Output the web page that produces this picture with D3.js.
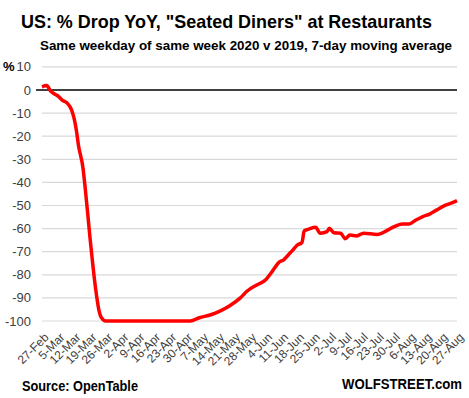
<!DOCTYPE html>
<html><head><meta charset="utf-8">
<script src="https://cdn.jsdelivr.net/npm/d3@7"></script>
<style>body{margin:0;background:#fff}svg{display:block}</style>
</head><body><svg id="c" width="469" height="398"></svg>
<script>
const dates = ["2020-02-27","2020-02-29","2020-03-02","2020-03-04","2020-03-05","2020-03-07","2020-03-09","2020-03-11","2020-03-12","2020-03-13","2020-03-14","2020-03-16","2020-03-17","2020-03-18","2020-03-19","2020-03-20","2020-03-21","2020-03-22","2020-03-23","2020-03-24","2020-03-26","2020-05-02","2020-05-06","2020-05-11","2020-05-15","2020-05-19","2020-05-24","2020-05-27","2020-05-31","2020-06-04","2020-06-07","2020-06-10","2020-06-12","2020-06-14","2020-06-16","2020-06-18","2020-06-20","2020-06-21","2020-06-23","2020-06-26","2020-06-28","2020-07-01","2020-07-02","2020-07-04","2020-07-07","2020-07-09","2020-07-11","2020-07-14","2020-07-17","2020-07-23","2020-07-27","2020-07-30","2020-08-03","2020-08-06","2020-08-09","2020-08-12","2020-08-15","2020-08-18","2020-08-22","2020-08-25","2020-08-27"];
const values = [1.4,1.9,-0.7,-2.0,-2.6,-4.5,-5.6,-8.7,-12,-17,-24,-34,-43,-53,-63.5,-73,-82,-89.5,-95.5,-98.5,-100,-100,-98.6,-97.3,-95.7,-93.6,-90,-87,-84.5,-82.3,-78.5,-74.5,-73.5,-71.4,-69.3,-67.1,-66,-61,-60.2,-59.4,-62,-61.3,-59.9,-61.8,-62,-64.4,-62.8,-63.2,-62,-62.5,-61,-59.4,-58,-58,-56.3,-54.8,-53.7,-52,-49.8,-48.8,-47.9];
const tickLabels = ["27-Feb","5-Mar","12-Mar","19-Mar","26-Mar","2-Apr","9-Apr","16-Apr","23-Apr","30-Apr","7-May","14-May","21-May","28-May","4-Jun","11-Jun","18-Jun","25-Jun","2-Jul","9-Jul","16-Jul","23-Jul","30-Jul","6-Aug","13-Aug","20-Aug","27-Aug"];
const yTicks = [10,0,-10,-20,-30,-40,-50,-60,-70,-80,-90,-100];

const FONT = "Liberation Sans, Arial, sans-serif";
const parse = d3.timeParse("%Y-%m-%d");
const data = dates.map((d,i)=>({date:parse(d), v:values[i]}));
const svg = d3.select("#c");
const x = d3.scaleTime().domain([parse("2020-02-27"), parse("2020-08-27")]).range([42,457]);
const y = d3.scaleLinear().domain([-100,10]).range([321,66.9]);

svg.append("g").selectAll("line").data(yTicks.filter(v=>v!==0)).join("line")
  .attr("x1",42).attr("x2",457).attr("y1",d=>y(d)).attr("y2",d=>y(d))
  .attr("stroke","#d9d9d9").attr("stroke-width",1.2);
svg.append("line").attr("x1",36).attr("x2",457).attr("y1",y(0)).attr("y2",y(0))
  .attr("stroke","#000").attr("stroke-width",1.5);

svg.append("g").selectAll("text").data(yTicks).join("text")
  .attr("x",31).attr("y",d=>y(d)).attr("dy","0.35em").attr("text-anchor","end")
  .attr("font-family",FONT).attr("font-size",13).attr("fill","#404040")
  .text(d=>String(d));
svg.append("text").attr("x",3).attr("y",y(10)).attr("dy","0.35em").text("%")
  .attr("font-family",FONT).attr("font-size",13).attr("font-weight","bold").attr("fill","#000");

const tickDates = tickLabels.map((t,i)=>d3.timeDay.offset(parse("2020-02-27"), i*7));
const xAxis = d3.axisBottom(x).tickValues(tickDates).tickSize(0).tickFormat((d,i)=>tickLabels[i]);
const gx = svg.append("g").attr("transform","translate(0,331)").call(xAxis);
gx.select(".domain").remove();
gx.selectAll("text").attr("font-family",FONT).attr("font-size",12).attr("fill","#404040")
  .attr("text-anchor","end").attr("y",0).attr("dy","0.35em").attr("transform","translate(4,4) rotate(-45)");

svg.append("path").datum(data)
  .attr("d", d3.line().x(d=>x(d.date)).y(d=>y(d.v)).curve(d3.curveMonotoneX))
  .attr("fill","none").attr("stroke","#ff0000").attr("stroke-width",3.5).attr("stroke-linejoin","round");

svg.append("text").attr("x",21).attr("y",28).text('US: % Drop YoY, "Seated Diners" at Restaurants')
  .attr("font-family",FONT).attr("font-weight","bold").attr("font-size",18.5)
  .attr("textLength",411).attr("lengthAdjust","spacingAndGlyphs");
svg.append("text").attr("x",40).attr("y",50).text("Same weekday of same week 2020 v 2019, 7-day moving average")
  .attr("font-family",FONT).attr("font-weight","bold").attr("font-size",12.5)
  .attr("textLength",412).attr("lengthAdjust","spacingAndGlyphs");
svg.append("text").attr("x",22).attr("y",391).text("Source: OpenTable")
  .attr("font-family",FONT).attr("font-weight","bold").attr("font-size",14)
  .attr("textLength",116).attr("lengthAdjust","spacingAndGlyphs");
svg.append("text").attr("x",342).attr("y",389).text("WOLFSTREET.com")
  .attr("font-family",FONT).attr("font-weight","bold").attr("font-size",14)
  .attr("textLength",120).attr("lengthAdjust","spacingAndGlyphs");
</script></body></html>
